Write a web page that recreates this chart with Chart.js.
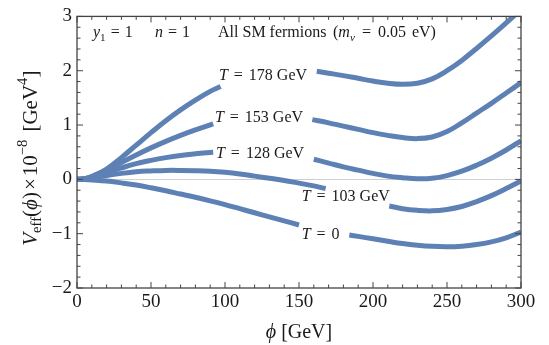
<!DOCTYPE html>
<html><head><meta charset="utf-8">
<script src="https://cdn.jsdelivr.net/npm/chart.js@4"></script>
<style>html,body{margin:0;padding:0;background:#fff}#wrap{width:549px;height:345px}</style>
</head><body><div id="wrap"><canvas id="c" width="549" height="345"></canvas></div>
<script>
// ---- data ----
const phi178 = [0,5,10,20,30,40,50,60,70,80,90,97,130,162,170,180,190,200,210,220,230,240,250,260,270,280,290,300];
const v178   = [0,0.01,0.05,0.19,0.40,0.63,0.86,1.08,1.28,1.46,1.62,1.71,null,1.99,1.955,1.91,1.86,1.81,1.77,1.75,1.77,1.85,2.0,2.19,2.41,2.64,2.88,3.13];
const phi153 = [0,5,10,20,30,40,50,60,70,80,92,125,159,170,180,190,200,210,220,230,240,250,260,270,280,290,300];
const v153   = [0,0.01,0.05,0.17,0.31,0.45,0.58,0.7,0.81,0.91,1.02,null,1.1,1.04,0.98,0.92,0.86,0.81,0.77,0.75,0.78,0.88,1.04,1.22,1.4,1.59,1.78];
const phi128 = [0,5,10,20,30,40,50,60,70,80,92,125,160,170,180,190,200,210,220,230,240,250,260,270,280,290,300];
const v128   = [0,0.01,0.04,0.12,0.21,0.29,0.35,0.4,0.44,0.47,0.5,null,0.37,0.3,0.23,0.17,0.11,0.06,0.03,0.01,0.02,0.07,0.15,0.26,0.39,0.54,0.71];
const phi103 = [0,5,10,20,30,40,50,60,70,80,90,100,110,120,130,140,150,160,168,190,211,220,230,240,250,260,270,280,290,300];
const v103   = [0,0.005,0.02,0.07,0.11,0.14,0.155,0.165,0.165,0.16,0.15,0.13,0.1,0.06,0.02,-0.02,-0.07,-0.12,-0.17,null,-0.49,-0.54,-0.57,-0.58,-0.555,-0.5,-0.41,-0.3,-0.17,-0.03];
const phi0   = [0,5,10,20,30,40,50,60,70,80,90,100,110,120,130,140,150,167,184,190,200,210,220,230,240,250,260,270,280,290,300];
const v0     = [0,-0.003,-0.01,-0.03,-0.065,-0.105,-0.155,-0.21,-0.27,-0.33,-0.395,-0.465,-0.54,-0.615,-0.69,-0.765,-0.84,null,-1.025,-1.05,-1.095,-1.14,-1.182,-1.213,-1.233,-1.24,-1.23,-1.2,-1.15,-1.075,-0.97];
const curveTemps = ['178 GeV','153 GeV','128 GeV','103 GeV','0'];
const xTicks = [0,50,100,150,200,250,300];
const yTicks = [-2,-1,0,1,2,3];

// ---- styling / layout ----
const SERIF = "'Liberation Serif','Times New Roman',serif";
const BLUE = '#5E81B5';
// label anchor (left edge, vertical centre) in data coordinates
const labelPos = [[95.9,1.91],[93.2,1.14],[93.9,0.47],[151.8,-0.33],[151.8,-1.02]];

function pts(xs, ys){ return xs.map((x,i)=>({x:x, y:ys[i]})); }
const series = [[phi178,v178],[phi153,v153],[phi128,v128],[phi103,v103],[phi0,v0]];

function fontStr(size, italic){ return (italic?'italic ':'') + size + 'px ' + SERIF; }
function richWidth(ctx, parts, size){
  let w=0;
  for(const p of parts){
    if(p.gap){ w+=p.gap; continue; }
    const s = (p.sub||p.sup)? size*0.7 : size;
    ctx.font = fontStr(s, p.it);
    w += ctx.measureText(p.t).width;
  }
  return w;
}
function drawRich(ctx, parts, x, y, size, align){
  const w = richWidth(ctx, parts, size);
  let cx = align==='center' ? x - w/2 : x;
  ctx.textBaseline='middle'; ctx.textAlign='left';
  for(const p of parts){
    if(p.gap){ cx+=p.gap; continue; }
    const s = (p.sub||p.sup)? size*0.7 : size;
    ctx.font = fontStr(s, p.it);
    const dy = p.sub ? size*0.28 : (p.sup ? -size*0.38 : 0);
    ctx.fillText(p.t, cx, y+dy);
    cx += ctx.measureText(p.t).width;
  }
}

const decor = {
  id:'decor',
  beforeDatasetsDraw(chart){
    const ctx=chart.ctx, xs=chart.scales.x, ys=chart.scales.y;
    ctx.save();
    ctx.strokeStyle='#cfcfcf'; ctx.lineWidth=1;
    const y0=Math.round(ys.getPixelForValue(0))+0.5;
    ctx.beginPath(); ctx.moveTo(xs.left,y0); ctx.lineTo(xs.right,y0); ctx.stroke();
    ctx.restore();
  },
  afterDatasetsDraw(chart){
    const ctx=chart.ctx, xs=chart.scales.x, ys=chart.scales.y, a=chart.chartArea;
    ctx.save();
    ctx.strokeStyle='#444'; ctx.lineWidth=1.3;
    ctx.strokeRect(a.left, a.top, a.right-a.left, a.bottom-a.top);
    ctx.lineWidth=1;
    ctx.beginPath();
    for(let v=0; v<=300; v+=10){
      const px=xs.getPixelForValue(v), L=(v%50===0)?6:3.5;
      ctx.moveTo(px,a.bottom); ctx.lineTo(px,a.bottom-L);
      ctx.moveTo(px,a.top); ctx.lineTo(px,a.top+L);
    }
    for(let k=-10; k<=15; k++){
      const v=k/5, py=ys.getPixelForValue(v), L=(k%5===0)?6:3.5;
      ctx.moveTo(a.left,py); ctx.lineTo(a.left+L,py);
      ctx.moveTo(a.right,py); ctx.lineTo(a.right-L,py);
    }
    ctx.stroke();
    ctx.fillStyle='#1a1a1a';
    curveTemps.forEach((t,i)=>{
      const px=xs.getPixelForValue(labelPos[i][0]), py=ys.getPixelForValue(labelPos[i][1]);
      drawRich(ctx,[{t:'T',it:true},{gap:6},{t:'='},{gap:6},{t:t}],px,py,16,'left');
    });
    const ay = ys.getPixelForValue(2.69);
    drawRich(ctx,[{t:'y',it:true},{t:'1',sub:true},{gap:5},{t:'='},{gap:5},{t:'1'}], xs.getPixelForValue(10.8), ay, 16,'left');
    drawRich(ctx,[{t:'n',it:true},{gap:5},{t:'='},{gap:5},{t:'1'}], xs.getPixelForValue(52.7), ay, 16,'left');
    drawRich(ctx,[{t:'All SM fermions'}], xs.getPixelForValue(95.3), ay, 16,'left');
    drawRich(ctx,[{t:'('},{t:'m',it:true},{t:'\u03bd',it:true,sub:true},{gap:7},{t:'='},{gap:7},{t:'0.05'},{gap:6},{t:'eV)'}], xs.getPixelForValue(173), ay, 16,'left');
    drawRich(ctx,[{t:'\u03d5',it:true},{gap:5},{t:'[GeV]'}], (a.left+a.right)/2, 333, 20,'center');
    ctx.translate(31, (a.top+a.bottom)/2+6);
    ctx.rotate(-Math.PI/2);
    drawRich(ctx,[{t:'V',it:true},{t:'eff',sub:true},{t:'('},{t:'\u03d5',it:true},{t:')'},{gap:2},{t:'\u00d7'},{gap:2},{t:'10'},{t:'\u22128',sup:true},{gap:8},{t:'[GeV'},{t:'4',sup:true},{t:']'}],0,0,21,'center');
    ctx.restore();
  }
};

new Chart(document.getElementById('c'), {
  type:'line',
  data:{ datasets: series.map((s,i)=>({
    label:'T = '+curveTemps[i],
    data: pts(s[0], s[1]),
    borderColor: BLUE, borderWidth:5, pointRadius:0,
    tension:0.4, spanGaps:false, fill:false, clip:0
  }))},
  options:{
    responsive:false, animation:false, events:[],
    layout:{ padding:{left:0, right:28, top:14, bottom:0} },
    plugins:{ legend:{display:false}, tooltip:{enabled:false} },
    scales:{
      x:{ type:'linear', min:0, max:300,
          afterBuildTicks(s){ s.ticks = xTicks.map(v=>({value:v})); },
          afterFit(s){ s.height=57; },
          grid:{display:false, drawTicks:false}, border:{display:false},
          ticks:{ padding:3, color:'#1a1a1a', font:{family:SERIF, size:19}, maxRotation:0, autoSkip:false } },
      y:{ min:-2, max:3,
          afterBuildTicks(s){ s.ticks = yTicks.map(v=>({value:v})); },
          afterFit(s){ s.width=77; },
          grid:{display:false, drawTicks:false}, border:{display:false},
          ticks:{ padding:5, color:'#1a1a1a', font:{family:SERIF, size:19},
                  callback:v=> v<0 ? '\u2212'+Math.abs(v) : ''+v } }
    }
  },
  plugins:[decor]
});
</script></body></html>
